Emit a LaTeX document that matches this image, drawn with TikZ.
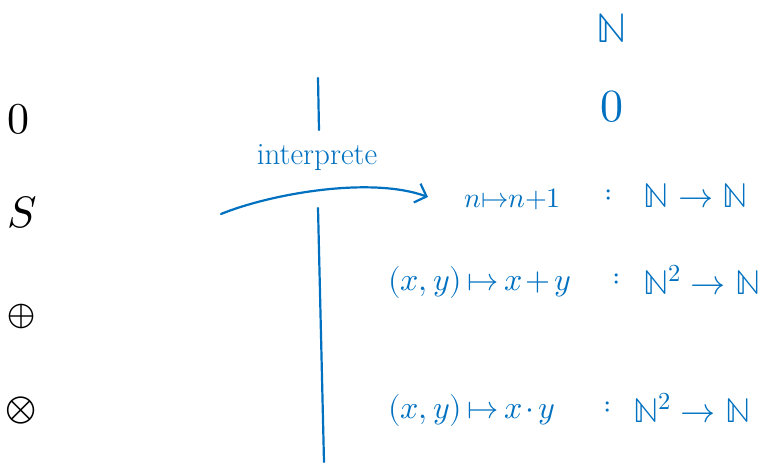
\documentclass[tikz,border=0pt]{standalone}
\usepackage{unicode-math}
\setmathfont{Latin Modern Math}
\usetikzlibrary{arrows.meta}
\definecolor{ink}{RGB}{0,112,192}
\newcommand\tightsp{\thickmuskip=3mu\relax\medmuskip=2mu\relax}
\newcommand\nosp{\thickmuskip=0mu\relax\medmuskip=0mu\relax}
\begin{document}
\begin{tikzpicture}[x=1pt,y=-1pt,
  sym/.style={font=\fontsize{44}{48}\selectfont, inner sep=0pt},
  blu/.style={inner sep=0pt, text=ink},
  fml/.style={blu, anchor=west, font=\fontsize{32}{36}\selectfont},
  typ/.style={blu, anchor=west, font=\fontsize{35}{38}\selectfont},
  col/.style={blu, font=\fontsize{30}{34}\selectfont},
  pen/.style={draw=ink, line width=2.2pt, line cap=round}]
\useasboundingbox (0,0) rectangle (764,464);
% left column (syntax)
\node[sym] (zero) at (18,119) {$0$};
\node[sym] (succ) at (22,212) {$S$};
\node[sym, font=\fontsize{36}{40}\selectfont] (plus) at (22,316) {$\oplus$};
\node[sym, font=\fontsize{40}{44}\selectfont] (times) at (21,410) {$\otimes$};
% divider
\coordinate (d1) at (318,78);
\coordinate (d2) at (319,130);
\coordinate (d3) at (318,208);
\coordinate (d4) at (324,462);
\draw[pen] (d1) -- (d2);
\draw[pen] (d3) -- (d4);
% interpretation arrow
\coordinate (a0) at (221,214);
\coordinate (a1) at (428,197);
\draw[pen, -{Straight Barb[length=10pt,width=20pt]}] (a0) .. controls (270,194) and (370,176) .. (a1);
\node[blu, font=\fontsize{31}{34}\selectfont] (interp) at (317,158) {interprete};
% right column (semantics)
\node[blu, font=\fontsize{42}{46}\selectfont] (nat) at (612,28) {$\mathbb{N}$};
\node[blu, font=\fontsize{46}{50}\selectfont] (nzero) at (612,107) {$0$};
\node[fml, font=\fontsize{28}{32}\selectfont] (f1) at (464,199) {$\nosp n\mapsto n+1$};
\node[col] (c1) at (609,196) {$:$};
\node[typ] (t1) at (643,196) {$\mathbb{N}\to\mathbb{N}$};
\node[fml] (f2) at (388,282) {$\tightsp (x,y)\mapsto x+y$};
\node[col] (c2) at (617,280) {$:$};
\node[typ] (t2) at (643,280) {$\mathbb{N}^2\to\mathbb{N}$};
\node[fml] (f3) at (388,410) {$\tightsp (x,y)\mapsto x\cdot y$};
\node[col] (c3) at (608,408) {$:$};
\node[typ] (t3) at (633,408) {$\mathbb{N}^2\to\mathbb{N}$};
\end{tikzpicture}
\end{document}
